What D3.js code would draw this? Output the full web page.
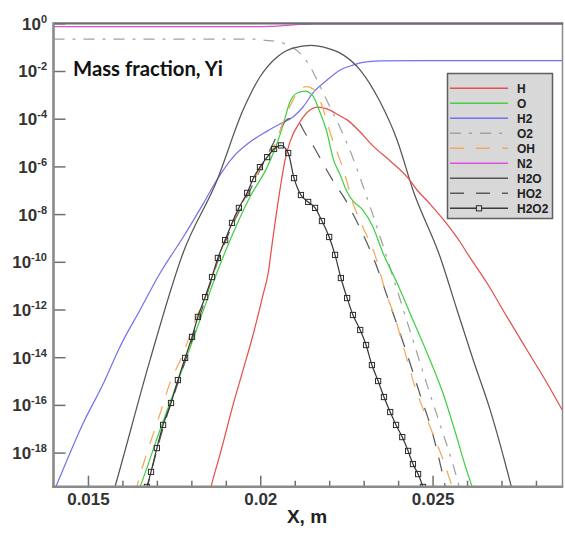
<!DOCTYPE html>
<html>
<head>
<meta charset="utf-8">
<script src="https://cdn.jsdelivr.net/npm/d3@7/dist/d3.min.js"></script>
<style>
  body { margin: 0; background: #fff; }
  svg { display: block; }
</style>
</head>
<body>
<svg id="chart" width="565" height="533"></svg>
<script>
// Species profiles across the flame: each pair is [x (m), log10 of mass fraction Y].
const H = [[0.01851,-19.78],[0.01857,-19.44],[0.01889,-17.77],[0.01921,-16.00],[0.01950,-14.54],[0.01979,-13.07],[0.02008,-11.39],[0.02023,-10.47],[0.02034,-9.30],[0.02046,-8.04],[0.02057,-6.99],[0.02072,-5.73],[0.02086,-4.98],[0.02115,-4.14],[0.02144,-3.64],[0.02165,-3.51],[0.02194,-3.59],[0.02232,-3.89],[0.02252,-4.05],[0.02290,-4.56],[0.02327,-5.14],[0.02377,-5.77],[0.02426,-6.44],[0.02455,-6.99],[0.02493,-7.58],[0.02542,-8.42],[0.02580,-9.17],[0.02600,-9.63],[0.02658,-10.89],[0.02716,-12.31],[0.02774,-13.70],[0.02832,-15.08],[0.02876,-16.21]];

const O = [[0.01645,-19.66],[0.01651,-19.44],[0.01709,-17.05],[0.01773,-14.54],[0.01825,-12.44],[0.01875,-10.43],[0.01904,-9.38],[0.01970,-7.28],[0.02020,-6.03],[0.02049,-5.02],[0.02066,-4.27],[0.02086,-3.30],[0.02107,-2.92],[0.02130,-2.84],[0.02153,-3.05],[0.02173,-3.72],[0.02194,-4.60],[0.02211,-5.65],[0.02232,-6.36],[0.02252,-7.07],[0.02269,-7.45],[0.02298,-7.83],[0.02327,-8.54],[0.02356,-9.63],[0.02397,-10.89],[0.02443,-12.44],[0.02484,-13.82],[0.02530,-15.50],[0.02571,-17.39],[0.02594,-18.52],[0.02615,-19.44],[0.02623,-19.78]];

const H2 = [[0.01400,-19.67],[0.01409,-19.36],[0.01486,-16.77],[0.01545,-15.09],[0.01593,-13.56],[0.01651,-12.02],[0.01709,-10.48],[0.01777,-8.95],[0.01835,-7.55],[0.01874,-6.57],[0.01921,-5.61],[0.01970,-4.98],[0.02020,-4.52],[0.02057,-4.22],[0.02095,-3.93],[0.02124,-3.51],[0.02153,-2.92],[0.02194,-2.38],[0.02232,-1.96],[0.02269,-1.75],[0.02298,-1.64],[0.02348,-1.58],[0.02464,-1.57],[0.02876,-1.57]];

const O2 = [[0.01400,-0.66],[0.01985,-0.66],[0.02008,-0.70],[0.02057,-0.78],[0.02078,-0.91],[0.02115,-1.25],[0.02144,-1.80],[0.02165,-2.38],[0.02194,-3.26],[0.02232,-4.39],[0.02269,-5.65],[0.02298,-6.82],[0.02348,-8.96],[0.02397,-11.18],[0.02443,-13.28],[0.02484,-15.16],[0.02522,-16.84],[0.02557,-18.39],[0.02580,-19.57]];

const OH = [[0.01637,-19.74],[0.01645,-19.27],[0.01671,-18.02],[0.01706,-16.51],[0.01738,-15.08],[0.01776,-13.87],[0.01808,-12.57],[0.01843,-11.39],[0.01877,-9.88],[0.01918,-8.42],[0.01962,-7.16],[0.01999,-6.11],[0.02040,-5.14],[0.02066,-4.18],[0.02095,-3.22],[0.02115,-2.80],[0.02133,-2.65],[0.02153,-2.75],[0.02173,-3.22],[0.02188,-3.84],[0.02203,-4.60],[0.02223,-5.40],[0.02246,-6.36],[0.02266,-7.41],[0.02295,-8.46],[0.02333,-9.72],[0.02362,-11.18],[0.02391,-12.36],[0.02414,-13.49],[0.02443,-14.96],[0.02493,-16.93],[0.02536,-18.52],[0.02557,-19.44],[0.02565,-19.78]];

const N2 = [[0.01400,-0.14],[0.01985,-0.14],[0.02028,-0.13],[0.02072,-0.09],[0.02115,-0.05],[0.02159,-0.03],[0.02876,-0.03]];

const H2O = [[0.01573,-19.70],[0.01579,-19.40],[0.01680,-14.12],[0.01776,-9.63],[0.01875,-6.57],[0.01950,-3.64],[0.01999,-2.25],[0.02049,-1.41],[0.02095,-1.04],[0.02147,-0.93],[0.02194,-1.04],[0.02232,-1.25],[0.02290,-1.96],[0.02348,-3.30],[0.02397,-4.89],[0.02443,-6.99],[0.02522,-9.80],[0.02571,-12.02],[0.02618,-14.12],[0.02667,-16.21],[0.02716,-18.73],[0.02731,-19.57]];

const HO2 = [[0.01668,-19.69],[0.01718,-16.97],[0.01761,-15.08],[0.01802,-13.28],[0.01840,-11.60],[0.01877,-9.97],[0.01918,-8.50],[0.01962,-7.24],[0.01999,-6.15],[0.02034,-5.14],[0.02060,-4.39],[0.02081,-4.01],[0.02101,-3.99],[0.02130,-4.60],[0.02159,-5.27],[0.02188,-6.03],[0.02217,-6.74],[0.02246,-7.37],[0.02266,-7.91],[0.02295,-8.75],[0.02333,-10.01],[0.02377,-11.81],[0.02420,-13.61],[0.02464,-15.58],[0.02499,-17.14],[0.02525,-18.65],[0.02539,-19.57]];

const H2O2 = [[0.01666,-19.69],[0.01671,-19.44],[0.01683,-18.81],[0.01700,-17.81],[0.01718,-16.84],[0.01741,-15.92],[0.01761,-14.96],[0.01782,-14.03],[0.01802,-13.15],[0.01819,-12.31],[0.01840,-11.48],[0.01860,-10.64],[0.01877,-9.84],[0.01898,-9.09],[0.01918,-8.37],[0.01938,-7.74],[0.01962,-7.11],[0.01979,-6.53],[0.01999,-6.03],[0.02020,-5.61],[0.02040,-5.27],[0.02060,-5.12],[0.02081,-5.44],[0.02098,-6.49],[0.02118,-7.20],[0.02139,-7.49],[0.02159,-7.74],[0.02179,-8.29],[0.02200,-8.96],[0.02217,-9.71],[0.02234,-10.68],[0.02252,-11.52],[0.02269,-12.23],[0.02290,-12.86],[0.02307,-13.49],[0.02324,-14.33],[0.02342,-15.00],[0.02359,-15.67],[0.02377,-16.30],[0.02394,-16.84],[0.02412,-17.35],[0.02429,-17.93],[0.02443,-18.48],[0.02458,-18.90],[0.02472,-19.44],[0.02478,-19.73]];

const speciesNames = ["H", "O", "H2", "O2", "OH", "N2", "H2O", "HO2", "H2O2"];
const xTicks = [0.015, 0.02, 0.025];
const xTickLabels = ["0.015", "0.02", "0.025"];
const xMinorTicks = [0.016, 0.017, 0.018, 0.019, 0.021, 0.022, 0.023, 0.024, 0.026, 0.027, 0.028];
const yTickExponents = [0, -2, -4, -6, -8, -10, -12, -14, -16, -18];

// Line styles per species
const styles = {
  H:    { color: "#e5504e", dash: null },
  O:    { color: "#45cf45", dash: null },
  H2:   { color: "#7373f0", dash: null },
  O2:   { color: "#a2a2a2", dash: "11,8,3,8" },
  OH:   { color: "#f1a95c", dash: "14,12" },
  N2:   { color: "#e050e0", dash: null },
  H2O:  { color: "#555555", dash: null },
  HO2:  { color: "#5a5a5a", dash: "14,12" },
  H2O2: { color: "#3a3a3a", dash: null, marker: true }
};
const seriesData = { H, O, H2, O2, OH, N2, H2O, HO2, H2O2 };

const svg = d3.select("#chart");
const pL = 53.5, pR = 562.5, pT = 23.3, pB = 486.7;

const x = d3.scaleLinear().domain([0.014, 0.02875]).range([pL, 561.8]);
const y = d3.scaleLog().domain([Math.pow(10, -19.43), 1]).range([pB, pT]);

svg.append("defs").append("clipPath").attr("id", "plot-clip")
  .append("rect").attr("x", pL).attr("y", pT).attr("width", pR - pL).attr("height", pB - pT);

const line = d3.line()
  .x(d => x(d[0]))
  .y(d => y(Math.pow(10, d[1])))
  .curve(d3.curveMonotoneX);

// Draw order: background species first, markers last
const drawOrder = ["N2", "O2", "H2", "H2O", "H", "O", "HO2", "OH", "H2O2"];
const plot = svg.append("g").attr("clip-path", "url(#plot-clip)");
drawOrder.forEach(name => {
  const st = styles[name];
  plot.append("path")
    .datum(seriesData[name])
    .attr("d", line)
    .attr("fill", "none")
    .attr("stroke", st.color)
    .attr("stroke-width", 1.25)
    .attr("stroke-dasharray", st.dash);
  if (st.marker) {
    plot.selectAll(null)
      .data(seriesData[name])
      .enter().append("rect")
      .attr("x", d => x(d[0]) - 2.6)
      .attr("y", d => y(Math.pow(10, d[1])) - 2.6)
      .attr("width", 5.2).attr("height", 5.2)
      .attr("fill", "none")
      .attr("stroke", "#2e2e2e")
      .attr("stroke-width", 1);
  }
});

// Axes: ticks point into the plot
const xMinorAxis = d3.axisBottom(x).tickValues(xMinorTicks).tickSize(-6).tickSizeOuter(0).tickFormat("");
const xMajorAxis = d3.axisBottom(x).tickValues(xTicks).tickSize(-11).tickSizeOuter(0)
  .tickFormat((d, i) => xTickLabels[i]);
const gxMinor = svg.append("g").attr("transform", `translate(0,${pB})`).call(xMinorAxis);
const gxMajor = svg.append("g").attr("transform", `translate(0,${pB})`).call(xMajorAxis);
[gxMinor, gxMajor].forEach(g => {
  g.select(".domain").remove();
  g.selectAll(".tick line").attr("stroke", "#707070").attr("stroke-width", 1.5);
});
gxMajor.selectAll(".tick text")
  .attr("y", 18.3).attr("dy", null)
  .attr("fill", "#333")
  .style("font-family", "'Liberation Sans', Arial, sans-serif")
  .style("font-size", "17px")
  .style("font-weight", "bold");

const yAxis = d3.axisLeft(y).tickValues(yTickExponents.map(e => Math.pow(10, e)))
  .tickSize(-12).tickSizeOuter(0).tickFormat("");
const gy = svg.append("g").attr("transform", `translate(${pL},0)`).call(yAxis);
gy.select(".domain").remove();
gy.selectAll(".tick line").attr("stroke", "#707070").attr("stroke-width", 1.5);
gy.selectAll(".tick").each(function(d, i) {
  const t = d3.select(this).append("text")
    .attr("x", -6.5).attr("y", 6)
    .attr("text-anchor", "end")
    .attr("fill", "#333")
    .style("font-family", "'Liberation Sans', Arial, sans-serif")
    .style("font-weight", "bold");
  t.append("tspan").style("font-size", "17px").text("10");
  t.append("tspan").attr("dy", -7).style("font-size", "11px").text(String(yTickExponents[i]));
});

// Plot frame
const frame = svg.append("g");
frame.append("line").attr("x1", pR).attr("x2", pR).attr("y1", pT).attr("y2", pB)
  .attr("stroke", "#8a8a8a").attr("stroke-width", 1.5);
frame.append("line").attr("x1", pL).attr("x2", pR + 0.75).attr("y1", pT).attr("y2", pT)
  .attr("stroke", "#6e6e6e").attr("stroke-width", 2.2);
frame.append("line").attr("x1", pL).attr("x2", pL).attr("y1", pT - 1).attr("y2", pB + 1.2)
  .attr("stroke", "#8a8a8a").attr("stroke-width", 2.6);
frame.append("line").attr("x1", pL - 1.3).attr("x2", pR + 0.75).attr("y1", pB).attr("y2", pB)
  .attr("stroke", "#8a8a8a").attr("stroke-width", 2.6);

// Titles
svg.append("text")
  .attr("x", 73).attr("y", 76)
  .attr("fill", "#111")
  .style("font-family", "Lato, 'Open Sans', sans-serif")
  .style("font-size", "20.3px")
  .style("font-weight", "bold")
  .text("Mass fraction, Yi");

svg.append("text")
  .attr("x", 307).attr("y", 523)
  .attr("text-anchor", "middle")
  .attr("fill", "#222")
  .style("font-family", "'Liberation Sans', Arial, sans-serif")
  .style("font-size", "19px")
  .style("font-weight", "bold")
  .text("X, m");

// Legend
const legend = svg.append("g");
legend.append("rect")
  .attr("x", 447.5).attr("y", 73.5).attr("width", 105).attr("height", 145)
  .attr("fill", "#d8d8d8").attr("stroke", "#5e5e5e").attr("stroke-width", 1.5);
speciesNames.forEach((name, i) => {
  const st = styles[name];
  const ry = 88.3 + 15 * i;
  legend.append("line")
    .attr("x1", 450).attr("x2", 508).attr("y1", ry).attr("y2", ry)
    .attr("stroke", st.color).attr("stroke-width", 1.4)
    .attr("stroke-dasharray", st.dash);
  if (st.marker) {
    legend.append("rect")
      .attr("x", 479 - 2.6).attr("y", ry - 2.6).attr("width", 5.2).attr("height", 5.2)
      .attr("fill", "#d8d8d8").attr("stroke", "#2e2e2e").attr("stroke-width", 1);
  }
  legend.append("text")
    .attr("x", 517).attr("y", ry + 4.2)
    .attr("fill", "#222")
    .style("font-family", "'Liberation Sans Narrow', 'Arial Narrow', 'Liberation Sans', sans-serif")
    .style("font-size", "12px")
    .style("font-weight", "bold")
    .text(name);
});
</script>
</body>
</html>
